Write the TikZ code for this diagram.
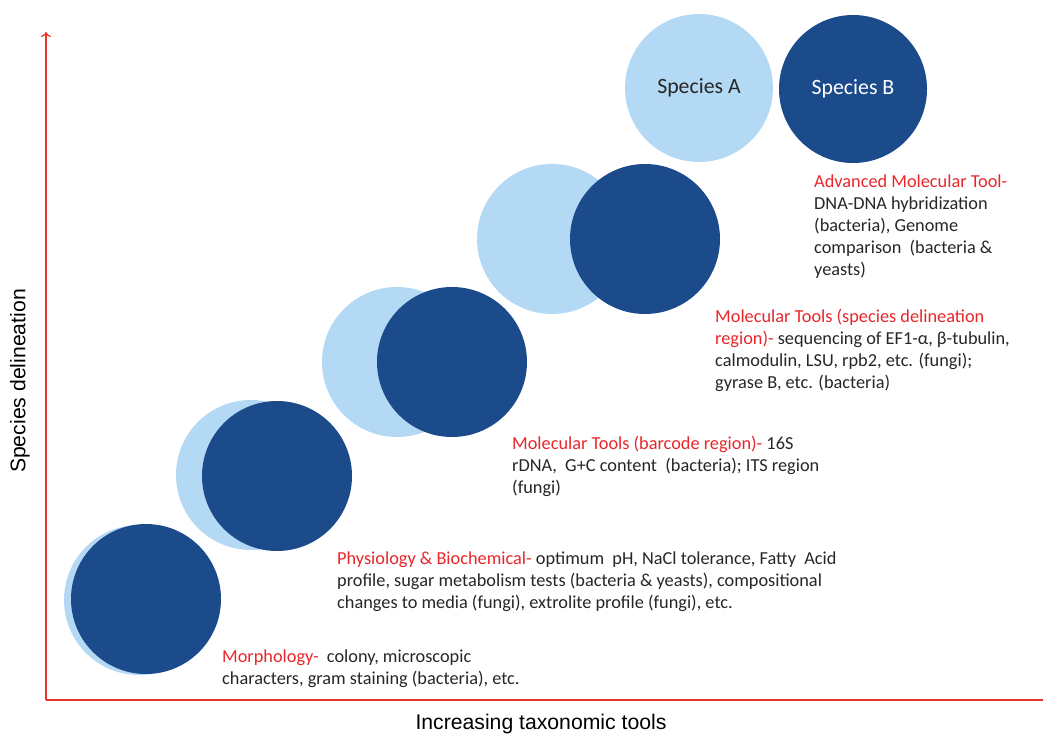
\documentclass[tikz,border=0pt]{standalone}
\usepackage{fontspec}
\setmainfont{Carlito}
\newfontfamily\arialfont{Liberation Sans}
\usetikzlibrary{arrows.meta}
\definecolor{lightblue}{HTML}{B4D9F4}
\definecolor{darkblue}{HTML}{1C4B8B}
\definecolor{axisred}{HTML}{E8352C}
\definecolor{headred}{HTML}{E8262A}
\definecolor{bodytext}{HTML}{262626}
\tikzset{
  lightdisc/.style={circle, fill=lightblue, minimum size=150pt, inner sep=0pt},
  darkdisc/.style={circle, fill=darkblue, minimum size=150pt, inner sep=0pt},
  desc/.style={anchor=base west, align=left, inner sep=0pt, text=bodytext,
    font=\fontsize{18.3}{22}\selectfont},
  axis/.style={draw=axisred, line width=1.2pt},
  axislabel/.style={font=\arialfont\fontsize{21.2}{24}\selectfont, text=black, inner sep=0pt}
}
\newcommand{\hd}[1]{\textcolor{headred}{#1}}
\begin{document}
\begin{tikzpicture}[x=1pt,y=-1pt]
\useasboundingbox (0,0) rectangle (1043,736);
% circles
\node[lightdisc] (l1) at (139,600) {};
\node[darkdisc]  (d1) at (146,599) {};
\node[lightdisc] (l2) at (251,475) {};
\node[darkdisc]  (d2) at (277,476) {};
\node[lightdisc] (l3) at (397,362) {};
\node[darkdisc]  (d3) at (452,362) {};
\node[lightdisc] (l4) at (552,239) {};
\node[darkdisc]  (d4) at (645,239) {};
\node[lightdisc, minimum size=148pt, font=\fontsize{21.8}{24}\selectfont, text=bodytext] (sa) at (699,88) {Species A};
\node[darkdisc, minimum size=148pt, font=\fontsize{21.8}{24}\selectfont, text=white] (sb) at (853,89) {Species B};
% axes
\coordinate (O) at (46,700);
\coordinate (ytop) at (46,32);
\coordinate (xend) at (1043,700);
\draw[axis, -{To[length=5pt,width=10pt]}] (O) -- (ytop);
\draw[axis] (O) -- (xend);
\node[axislabel, rotate=90] (ylab) at (20,381) {Species delineation};
\node[axislabel] (xlab) at (541,724) {Increasing taxonomic tools};
% descriptions (anchor = baseline of last line)
\node[desc] (t5) at (814,275) {\hd{Advanced Molecular Tool-}\\DNA-DNA hybridization\\(bacteria), Genome\\comparison\ \ (bacteria \&\\yeasts)};
\node[desc] (t4) at (715,388) {\hd{Molecular Tools (species delineation}\\\hd{region)-} sequencing of EF1-α, β-tubulin,\\calmodulin, LSU, rpb2, etc. (fungi);\\gyrase B, etc. (bacteria)};
\node[desc] (t3) at (512,493) {\hd{Molecular Tools (barcode region)-} 16S\\rDNA,\ \ G+C content\ \ (bacteria); ITS region\\(fungi)};
\node[desc] (t2) at (337,608) {\hd{Physiology \& Biochemical-} optimum\ \ pH, NaCl tolerance, Fatty\ \ Acid\\profile, sugar metabolism tests (bacteria \& yeasts), compositional\\changes to media (fungi), extrolite profile (fungi), etc.};
\node[desc] (t1) at (222,684) {\hd{Morphology-}\ \ colony, microscopic\\characters, gram staining (bacteria), etc.};
\end{tikzpicture}
\end{document}
